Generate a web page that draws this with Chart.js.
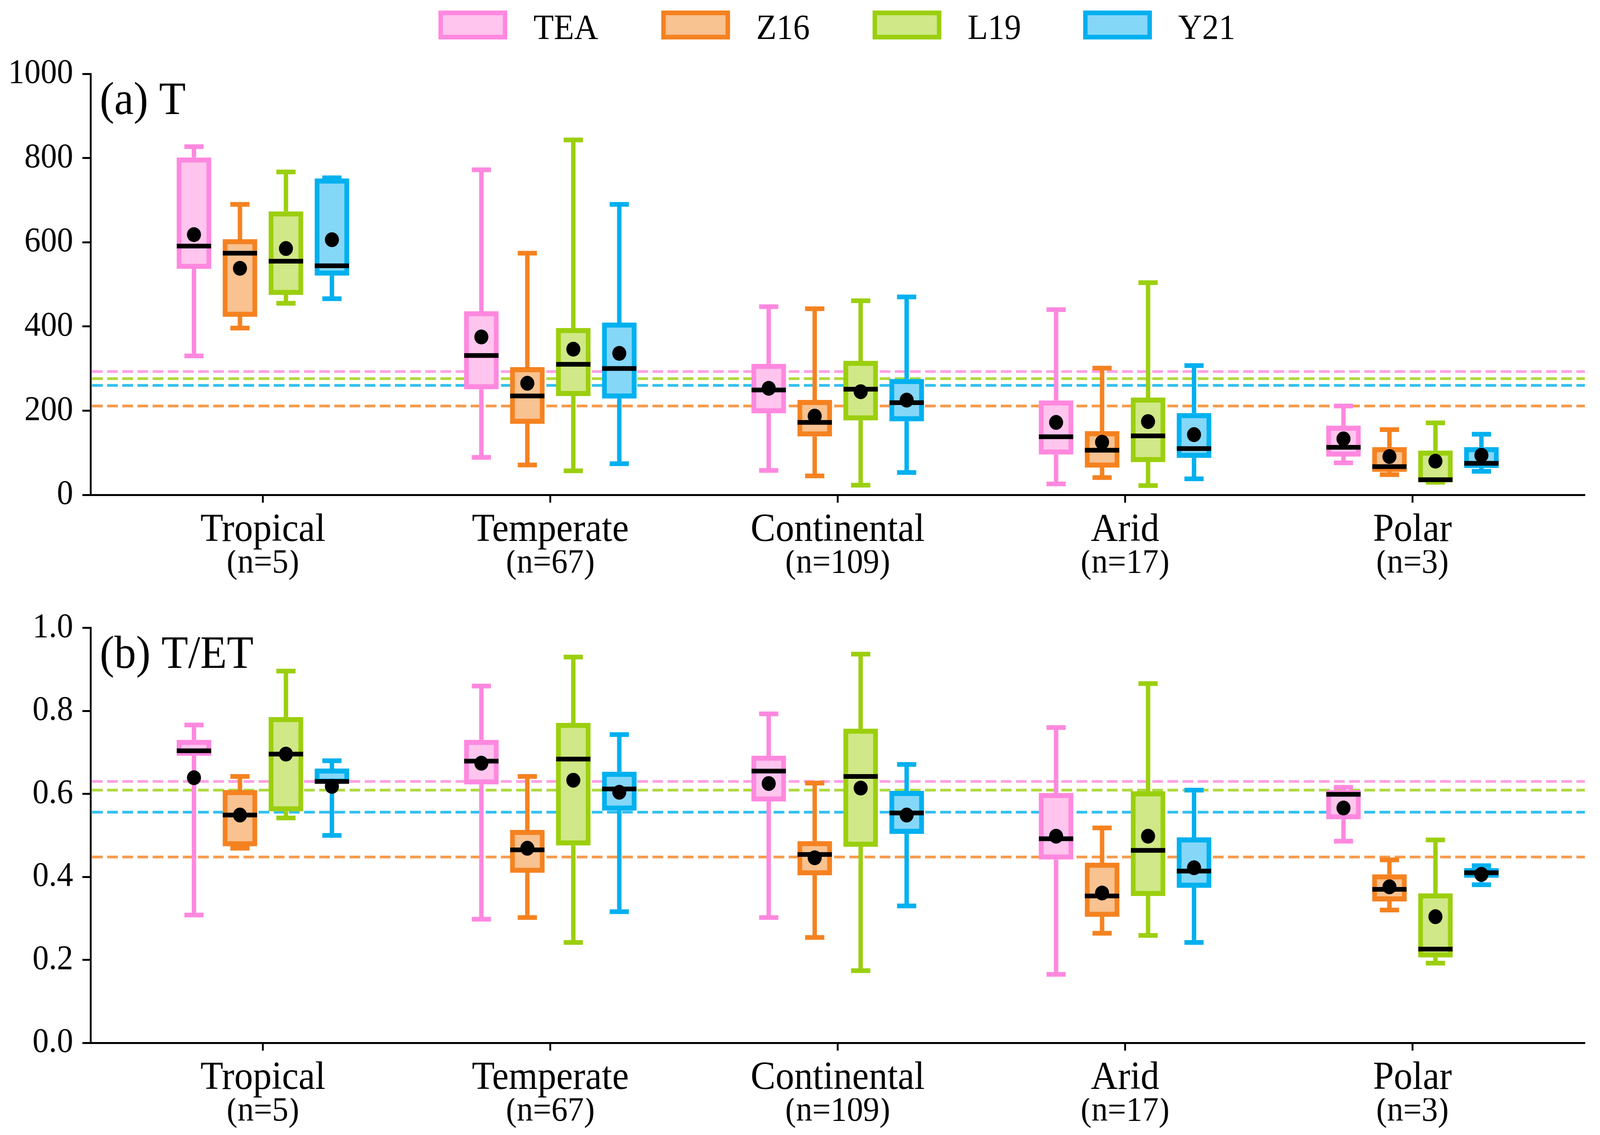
<!DOCTYPE html>
<html>
<head>
<meta charset="utf-8">
<title>T y T/ET por zona climática</title>
<script src="https://cdn.jsdelivr.net/npm/chart.js@4.4.1/dist/chart.umd.min.js"></script>
<style>
  html, body { margin: 0; padding: 0; background: #fff; overflow: hidden; }
  #frame { position: relative; overflow: hidden; background: #fff; }
  #wrap { position: absolute; left: 0; top: 0; width: 4331px; height: 2906px; transform-origin: 0 0; font-family: 'Liberation Serif', 'Times New Roman', serif; }
  canvas { position: absolute; left: 0; }
  #chartT { top: 0; }
  #chartTET { top: 1530px; }
  .leg-box { position: absolute; top: 27px; width: 186px; height: 74px; box-sizing: border-box; border: 12px solid; }
  .leg-text { position: absolute; top: 25px; font-size: 90px; line-height: 90px; color: #000; white-space: nowrap; }
</style>
</head>
<body>
<div id="frame">
  <div id="wrap">
    <div id="legend"></div>
    <canvas id="chartT" width="4331" height="1530"></canvas>
    <canvas id="chartTET" width="4331" height="1376"></canvas>
  </div>
</div>
<script>
// --- Datos ---
const categories = ['Tropical', 'Temperate', 'Continental', 'Arid', 'Polar'];
const sampleSizes = ['(n=5)', '(n=67)', '(n=109)', '(n=17)', '(n=3)'];
const models = ['TEA', 'Z16', 'L19', 'Y21'];

// [min, Q1, mediana, Q3, max] por zona
const T_TEA = [[330, 537, 591, 801, 827], [89, 251, 331, 436, 772], [58, 194, 249, 311, 447], [26, 96, 138, 224, 440], [76, 91, 113, 164, 211]];
const T_Z16 = [[396, 423, 574, 607, 690], [71, 169, 235, 303, 574], [45, 139, 172, 225, 442], [41, 65, 106, 151, 301], [48, 55, 67, 113, 155]];
const T_L19 = [[455, 475, 555, 673, 767], [57, 235, 310, 396, 843], [23, 177, 251, 318, 461], [22, 78, 140, 231, 504], [30, 30, 36, 105, 171]];
const T_Y21 = [[466, 521, 544, 751, 753], [74, 229, 300, 409, 690], [53, 175, 219, 275, 470], [38, 88, 110, 194, 307], [56, 64, 75, 113, 144]];
const T_TEA_mean = [618, 375, 253, 172, 133];
const T_Z16_mean = [538, 265, 187, 125, 91];
const T_L19_mean = [585, 346, 245, 174, 80];
const T_Y21_mean = [606, 336, 225, 143, 94];
const T_overall = [293, 211, 276, 260];

const TET_TEA = [[0.308, 0.692, 0.704, 0.730, 0.766], [0.298, 0.623, 0.679, 0.730, 0.860], [0.302, 0.582, 0.655, 0.692, 0.793], [0.165, 0.442, 0.492, 0.602, 0.760], [0.486, 0.539, 0.599, 0.609, 0.616]];
const TET_Z16 = [[0.469, 0.474, 0.549, 0.609, 0.642], [0.302, 0.410, 0.465, 0.513, 0.642], [0.254, 0.404, 0.454, 0.486, 0.626], [0.264, 0.304, 0.354, 0.434, 0.518], [0.320, 0.341, 0.370, 0.406, 0.441]];
const TET_L19 = [[0.542, 0.558, 0.696, 0.785, 0.896], [0.242, 0.476, 0.684, 0.771, 0.930], [0.174, 0.473, 0.642, 0.757, 0.937], [0.259, 0.354, 0.464, 0.606, 0.866], [0.192, 0.206, 0.226, 0.360, 0.489]];
const TET_Y21 = [[0.500, 0.625, 0.630, 0.661, 0.680], [0.316, 0.560, 0.612, 0.653, 0.743], [0.330, 0.504, 0.554, 0.607, 0.671], [0.242, 0.374, 0.414, 0.495, 0.609], [0.381, 0.398, 0.410, 0.421, 0.427]];
const TET_TEA_mean = [0.639, 0.674, 0.625, 0.498, 0.566];
const TET_Z16_mean = [0.549, 0.469, 0.446, 0.361, 0.376];
const TET_L19_mean = [0.696, 0.633, 0.614, 0.498, 0.304];
const TET_Y21_mean = [0.618, 0.604, 0.549, 0.422, 0.406];
const TET_overall = [0.630, 0.448, 0.609, 0.556];

const yTicksT = [0, 200, 400, 600, 800, 1000];
const yTicksTET = [0, 0.2, 0.4, 0.6, 0.8, 1.0];

// --- Estilos ---
const boxLine = ['#ff88df', '#f58220', '#9bcf0e', '#00b0ef'];
const boxFill = ['#ffc5ee', '#f9c291', '#d0e887', '#85d7f8'];
const dashLine = ['rgba(255,136,223,0.8)', 'rgba(245,130,32,0.8)', 'rgba(155,207,14,0.8)', 'rgba(0,176,239,0.8)'];
const boxOffset = [-0.24, -0.08, 0.08, 0.24];
const FONT = 'Liberation Serif';

Chart.defaults.font.family = FONT;
Chart.defaults.color = '#000';

// ajustar la figura completa a la ventana
const frame = document.getElementById('frame');
frame.style.width = window.innerWidth + 'px';
frame.style.height = window.innerHeight + 'px';
document.getElementById('wrap').style.transform =
  `scale(${window.innerWidth / 4331}, ${window.innerHeight / 2906})`;

// --- Leyenda HTML ---
const legendX = [1187, 1790, 2362, 2932];
const legendEl = document.getElementById('legend');
models.forEach((m, k) => {
  legendEl.insertAdjacentHTML('beforeend',
    `<div class="leg-box" style="left:${legendX[k]}px;border-color:${boxLine[k]};background:${boxFill[k]}"></div>` +
    `<div class="leg-text" style="left:${legendX[k] + 257}px">${m}</div>`);
});

// --- Plugin: bigotes, medianas, líneas de media global y título ---
const boxPlotPlugin = {
  id: 'boxplot',
  beforeDatasetsDraw(chart, args, opts) {
    const { ctx, chartArea, scales: { y } } = chart;
    ctx.save();
    ctx.lineWidth = 7;
    ctx.setLineDash([29, 12]);
    opts.overall.forEach((v, k) => {
      const py = y.getPixelForValue(v);
      ctx.strokeStyle = dashLine[k];
      ctx.beginPath();
      ctx.moveTo(chartArea.left + 4, py);
      ctx.lineTo(chartArea.right, py);
      ctx.stroke();
    });
    ctx.setLineDash([]);
    chart.data.datasets.forEach((ds, d) => {
      if (!ds.stats) return;
      const meta = chart.getDatasetMeta(d);
      ctx.strokeStyle = ds.borderColor;
      ctx.lineWidth = 12;
      meta.data.forEach((el, i) => {
        const [lo, q1, , q3, hi] = ds.stats[i];
        const x = el.x;
        const pLo = y.getPixelForValue(lo), pQ1 = y.getPixelForValue(q1);
        const pQ3 = y.getPixelForValue(q3), pHi = y.getPixelForValue(hi);
        ctx.beginPath();
        ctx.moveTo(x, pQ3); ctx.lineTo(x, pHi);
        ctx.moveTo(x, pQ1); ctx.lineTo(x, pLo);
        ctx.moveTo(x - 26, pHi); ctx.lineTo(x + 26, pHi);
        ctx.moveTo(x - 26, pLo); ctx.lineTo(x + 26, pLo);
        ctx.stroke();
      });
    });
    ctx.restore();
  },
  afterDatasetsDraw(chart, args, opts) {
    const { ctx, chartArea, scales: { y } } = chart;
    ctx.save();
    ctx.strokeStyle = '#000';
    ctx.lineWidth = 12;
    chart.data.datasets.forEach((ds, d) => {
      if (!ds.stats) return;
      const meta = chart.getDatasetMeta(d);
      meta.data.forEach((el, i) => {
        const py = y.getPixelForValue(ds.stats[i][2]);
        ctx.beginPath();
        ctx.moveTo(el.x - el.width / 2, py);
        ctx.lineTo(el.x + el.width / 2, py);
        ctx.stroke();
      });
    });
    ctx.fillStyle = '#000';
    ctx.font = `118px "${FONT}"`;
    ctx.textBaseline = 'alphabetic';
    ctx.fillText(opts.title, chartArea.left + 25, chartArea.top + opts.titleDy);
    ctx.restore();
  }
};

function buildDatasets(statsList, meanList) {
  const sets = models.map((m, k) => ({
    type: 'bar',
    label: m,
    data: categories.map((c, i) => ({ x: i + boxOffset[k], y: [statsList[k][i][1], statsList[k][i][3]] })),
    stats: statsList[k],
    backgroundColor: boxFill[k],
    borderColor: boxLine[k],
    borderWidth: 13,
    borderSkipped: false,
    grouped: false,
    barThickness: 93,
    order: 2
  }));
  const means = [];
  models.forEach((m, k) => categories.forEach((c, i) => means.push({ x: i + boxOffset[k], y: meanList[k][i] })));
  sets.push({
    type: 'scatter',
    label: 'mean',
    data: means,
    pointRadius: 19,
    pointHoverRadius: 19,
    backgroundColor: '#000',
    borderWidth: 0,
    order: 1
  });
  return sets;
}

const categoryTicks = s => { s.ticks = categories.map((c, i) => ({ value: i })); };

function makeScales(yTicks, yFmt, xnHeight) {
  return {
    x: {
      type: 'linear', position: 'bottom', weight: 0, min: -0.6, max: 4.6, bounds: 'data', offset: false,
      afterBuildTicks: categoryTicks,
      afterFit: s => { s.height = 142; },
      grid: { offset: false, drawOnChartArea: false, drawTicks: true, tickLength: 20, tickWidth: 5, tickColor: '#000' },
      border: { display: true, color: '#000', width: 5 },
      ticks: {
        padding: 21, color: '#000', maxRotation: 0, autoSkip: false,
        font: { family: FONT, size: 101, lineHeight: 1 },
        callback: v => categories[v]
      }
    },
    // segunda fila de etiquetas: tamaño de muestra
    xn: {
      type: 'linear', position: 'bottom', weight: 1, min: -0.6, max: 4.6, bounds: 'data', offset: false,
      afterBuildTicks: categoryTicks,
      afterFit: s => { s.height = xnHeight; },
      grid: { display: false },
      border: { display: false },
      ticks: {
        padding: -18, color: '#000', maxRotation: 0, autoSkip: false,
        font: { family: FONT, size: 88, lineHeight: 1 },
        callback: v => sampleSizes[v]
      }
    },
    y: {
      type: 'linear', min: yTicks[0], max: yTicks[yTicks.length - 1],
      afterBuildTicks: s => { s.ticks = yTicks.map(v => ({ value: v })); },
      afterFit: s => { s.width = 245; },
      grid: { drawOnChartArea: false, drawTicks: true, tickLength: 22, tickWidth: 5, tickColor: '#000' },
      border: { display: true, color: '#000', width: 5 },
      ticks: { padding: 25, color: '#000', font: { family: FONT, size: 88 }, callback: yFmt }
    }
  };
}

function makeChart(canvasId, statsList, meanList, overall, yTicks, yFmt, title, titleDy, padTop, xnHeight) {
  return new Chart(document.getElementById(canvasId), {
    type: 'bar',
    data: { datasets: buildDatasets(statsList, meanList) },
    options: {
      responsive: false,
      animation: false,
      devicePixelRatio: 1,
      events: [],
      layout: { padding: { top: padTop, right: 41, bottom: 0, left: 0 } },
      scales: makeScales(yTicks, yFmt, xnHeight),
      plugins: {
        legend: { display: false },
        tooltip: { enabled: false },
        boxplot: { overall, title, titleDy }
      }
    },
    plugins: [boxPlotPlugin]
  });
}

// --- Inicialización ---
makeChart('chartT', [T_TEA, T_Z16, T_L19, T_Y21], [T_TEA_mean, T_Z16_mean, T_L19_mean, T_Y21_mean],
  T_overall, yTicksT, v => String(v), '(a) T', 103, 189, 121);
makeChart('chartTET', [TET_TEA, TET_Z16, TET_L19, TET_Y21], [TET_TEA_mean, TET_Z16_mean, TET_L19_mean, TET_Y21_mean],
  TET_overall, yTicksTET, v => v.toFixed(1), '(b) T/ET', 102, 62, 94);
</script>
</body>
</html>
